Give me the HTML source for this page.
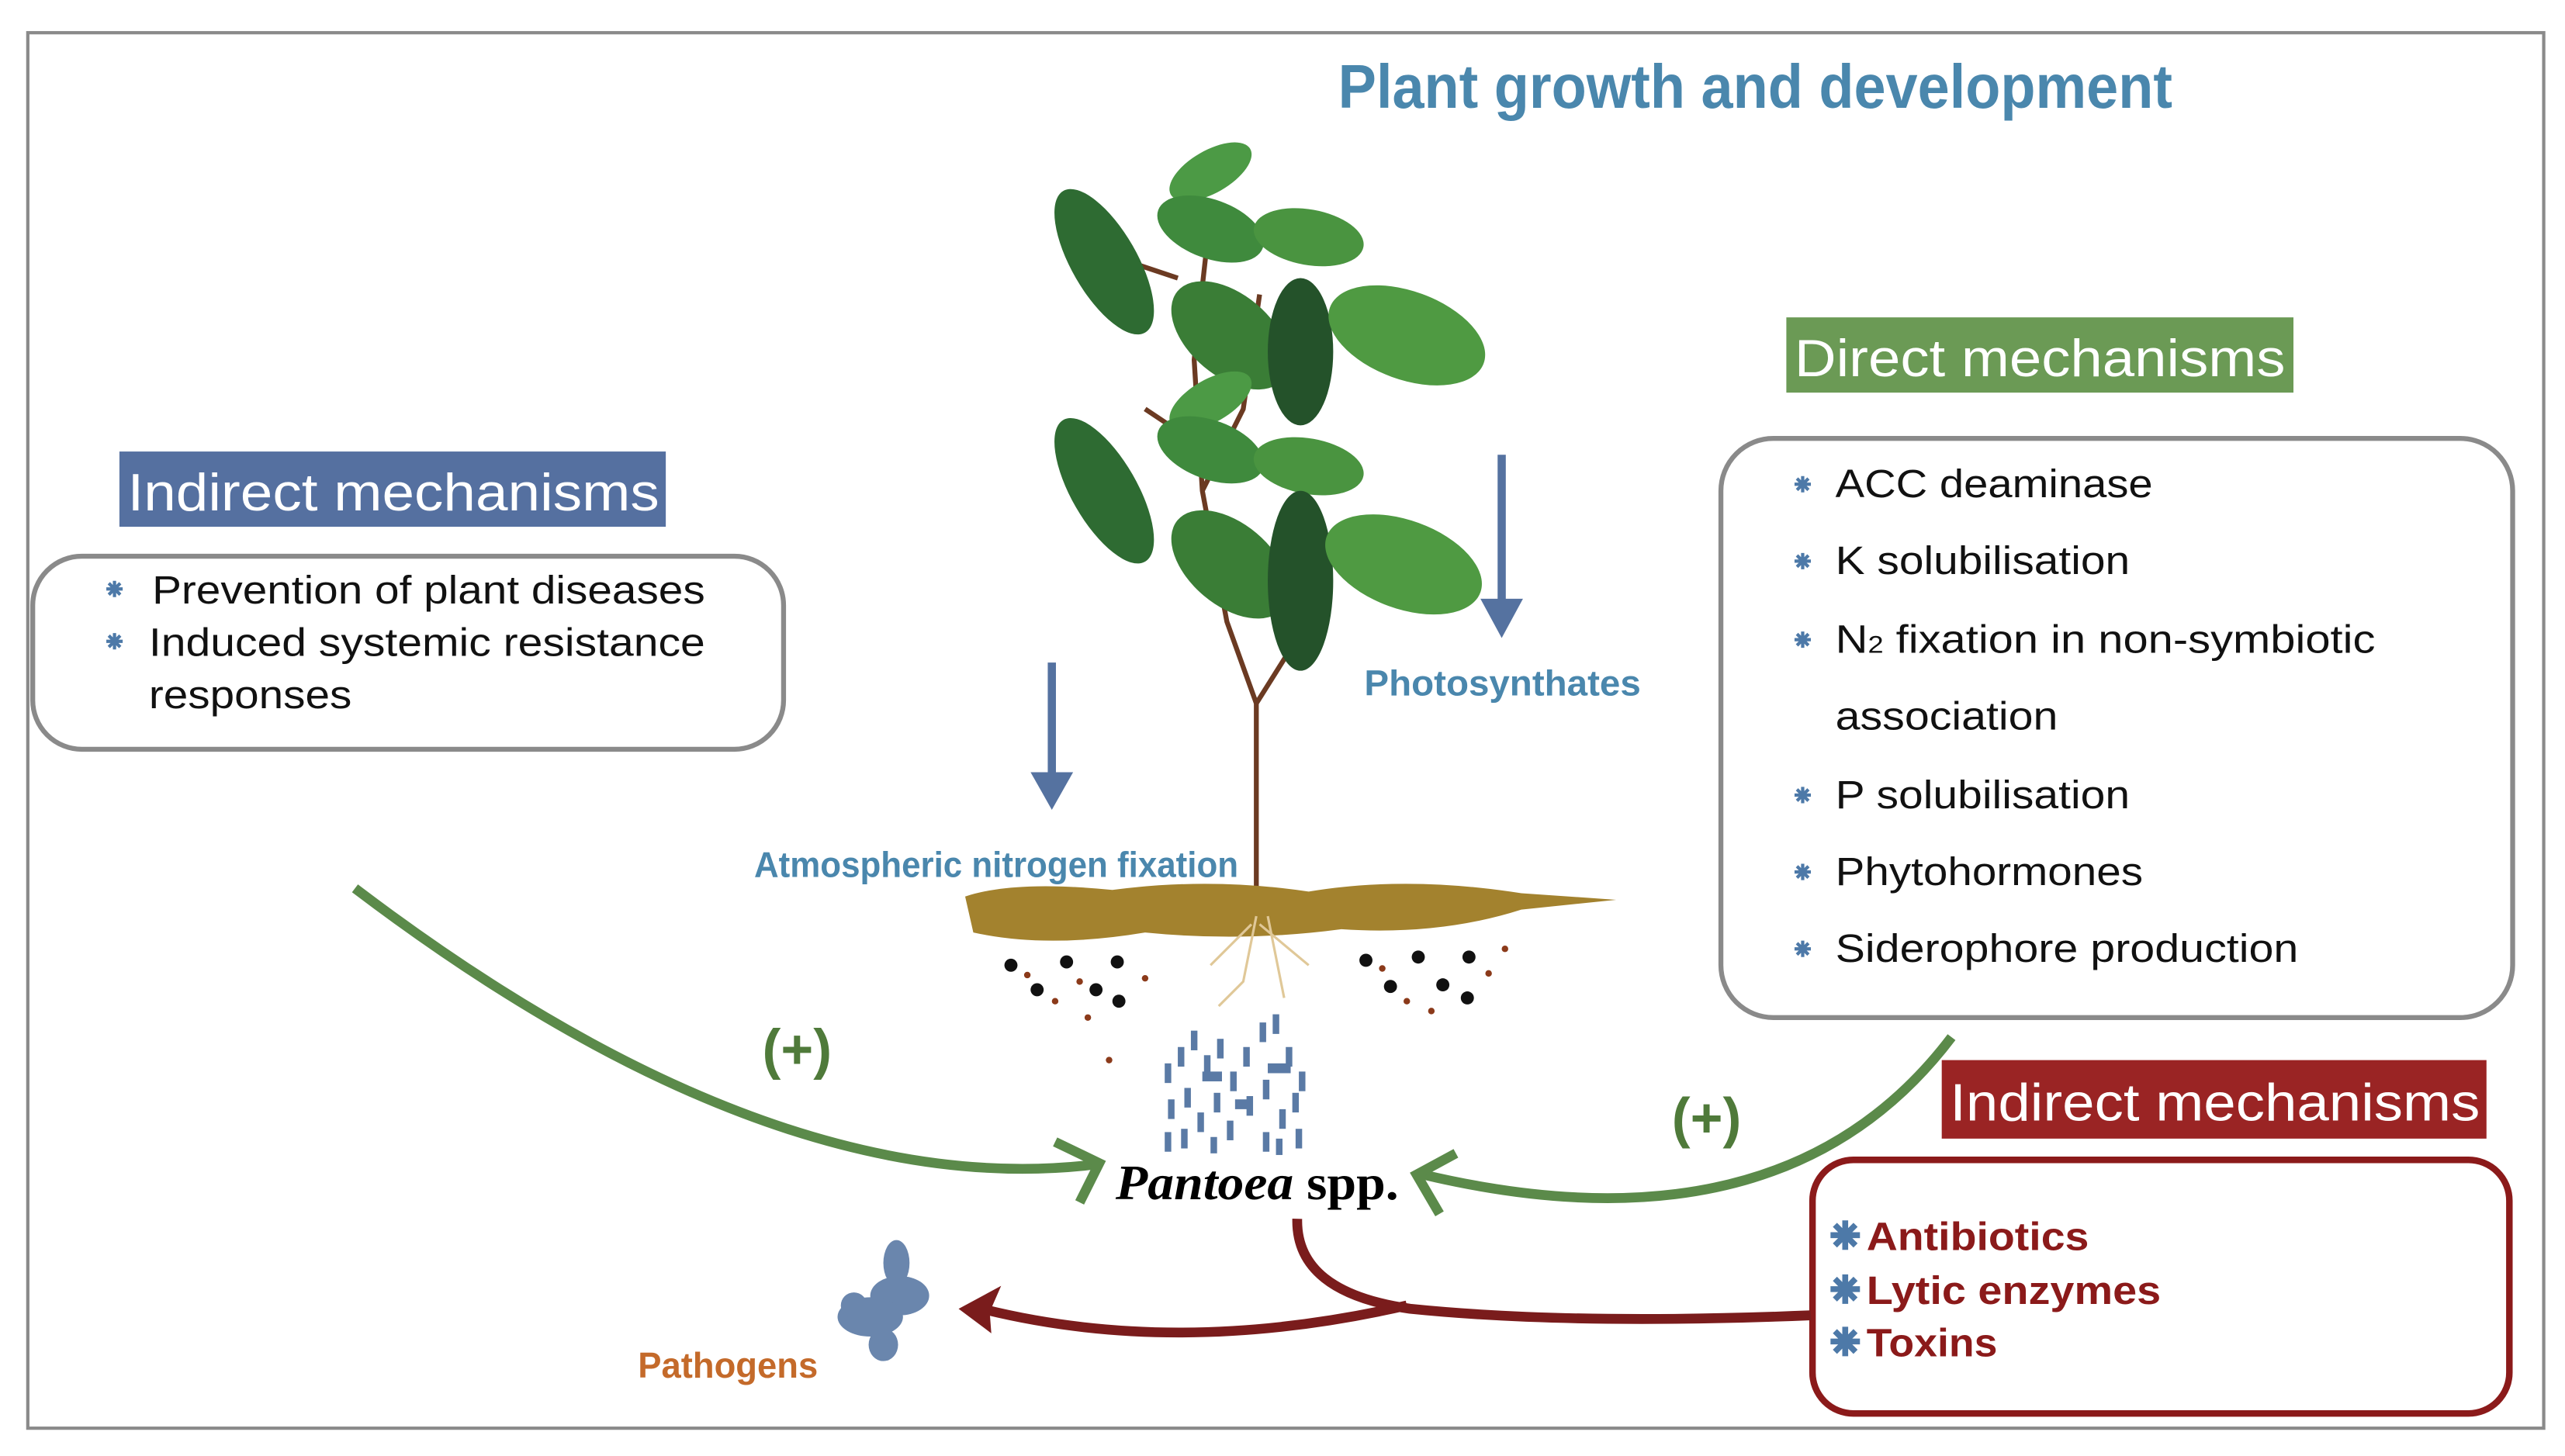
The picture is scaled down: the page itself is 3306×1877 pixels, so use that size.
<!DOCTYPE html>
<html><head><meta charset="utf-8"><style>
html,body{margin:0;padding:0;background:#fff;}
svg{display:block;}
text{font-family:"Liberation Sans",sans-serif;}
text.serif{font-family:"Liberation Serif",serif;}
</style></head><body>
<svg width="3306" height="1877" viewBox="0 0 1568 890" preserveAspectRatio="none" xmlns="http://www.w3.org/2000/svg">
<defs>
<g id="b"><path d="M-5,0H5M0,-5V5M-3.5,-3.5L3.5,3.5M-3.5,3.5L3.5,-3.5" stroke="#4d79a8" stroke-width="2"/></g>
</defs>
<rect x="17" y="20" width="1538" height="853" fill="#fff" stroke="#8a8a8a" stroke-width="2"/>
<text x="818" y="66" font-size="38" font-weight="bold" fill="#4a87ad" textLength="510" lengthAdjust="spacingAndGlyphs">Plant growth and development</text>

<!-- Direct mechanisms -->
<rect x="1092" y="194" width="310" height="46" fill="#6b9a55"/>
<text x="1097" y="230" font-size="32" fill="#fff" textLength="300" lengthAdjust="spacingAndGlyphs">Direct mechanisms</text>
<rect x="1052" y="268" width="484" height="354" rx="32" fill="none" stroke="#8a8a8a" stroke-width="3"/>
<g font-size="24" fill="#111">
<use href="#b" x="1102" y="296"/><text x="1122" y="304" textLength="194" lengthAdjust="spacingAndGlyphs">ACC deaminase</text>
<use href="#b" x="1102" y="343"/><text x="1122" y="351" textLength="180" lengthAdjust="spacingAndGlyphs">K solubilisation</text>
<use href="#b" x="1102" y="391"/><text x="1122" y="399" textLength="330" lengthAdjust="spacingAndGlyphs">N<tspan font-size="15">2</tspan> fixation in non-symbiotic</text>
<text x="1122" y="446" textLength="136" lengthAdjust="spacingAndGlyphs">association</text>
<use href="#b" x="1102" y="486"/><text x="1122" y="494" textLength="180" lengthAdjust="spacingAndGlyphs">P solubilisation</text>
<use href="#b" x="1102" y="533"/><text x="1122" y="541" textLength="188" lengthAdjust="spacingAndGlyphs">Phytohormones</text>
<use href="#b" x="1102" y="580"/><text x="1122" y="588" textLength="283" lengthAdjust="spacingAndGlyphs">Siderophore production</text>
</g>

<!-- Left indirect -->
<rect x="73" y="276" width="334" height="46" fill="#5570a0"/>
<text x="78" y="312" font-size="32" fill="#fff" textLength="325" lengthAdjust="spacingAndGlyphs">Indirect mechanisms</text>
<rect x="20" y="340" width="459" height="118" rx="30" fill="none" stroke="#8a8a8a" stroke-width="3"/>
<g font-size="24" fill="#111">
<use href="#b" x="70" y="360"/><text x="93" y="369" textLength="338" lengthAdjust="spacingAndGlyphs">Prevention of plant diseases</text>
<use href="#b" x="70" y="392"/><text x="91" y="401" textLength="340" lengthAdjust="spacingAndGlyphs">Induced systemic resistance</text>
<text x="91" y="433" textLength="124" lengthAdjust="spacingAndGlyphs">responses</text>
</g>

<!-- Red indirect -->
<rect x="1187" y="648" width="333" height="48" fill="#9a2424"/>
<text x="1192" y="685" font-size="32" fill="#fff" textLength="324" lengthAdjust="spacingAndGlyphs">Indirect mechanisms</text>
<rect x="1108" y="709" width="426" height="155" rx="25" fill="none" stroke="#8b1a1a" stroke-width="4"/>
<g font-size="24" font-weight="bold" fill="#8b1a1a">
<g transform="translate(1128,755) scale(1.8)"><use href="#b"/></g><text x="1141" y="764" textLength="136" lengthAdjust="spacingAndGlyphs">Antibiotics</text>
<g transform="translate(1128,788) scale(1.8)"><use href="#b"/></g><text x="1141" y="797" textLength="180" lengthAdjust="spacingAndGlyphs">Lytic enzymes</text>
<g transform="translate(1128,820) scale(1.8)"><use href="#b"/></g><text x="1141" y="829" textLength="80" lengthAdjust="spacingAndGlyphs">Toxins</text>
</g>

<!-- Plant stem -->
<g stroke="#6b3a22" fill="none" stroke-width="3">
<path d="M768,545 L768,430 L750,380 L735,300 L730,220 L740,130"/>
<path d="M768,430 L790,395"/>
<path d="M735,300 L760,250 L770,180"/>
<path d="M700,250 L730,270"/>
<path d="M690,160 L720,170"/>
</g>
<!-- Leaves -->
<g>
<ellipse cx="675" cy="160" rx="50" ry="20" transform="rotate(60 675 160)" fill="#2e6b32"/>
<ellipse cx="740" cy="105" rx="28" ry="13" transform="rotate(-30 740 105)" fill="#4c9a45"/>
<ellipse cx="740" cy="140" rx="34" ry="18" transform="rotate(20 740 140)" fill="#3f8a3d"/>
<ellipse cx="800" cy="145" rx="34" ry="17" transform="rotate(10 800 145)" fill="#4a9440"/>
<ellipse cx="752" cy="205" rx="42" ry="25" transform="rotate(40 752 205)" fill="#3a7d36"/>
<ellipse cx="795" cy="215" rx="20" ry="45" fill="#24522a"/>
<ellipse cx="860" cy="205" rx="50" ry="27" transform="rotate(20 860 205)" fill="#4f9a42"/>
<ellipse cx="675" cy="300" rx="50" ry="20" transform="rotate(60 675 300)" fill="#2e6b32"/>
<ellipse cx="740" cy="245" rx="28" ry="13" transform="rotate(-30 740 245)" fill="#4c9a45"/>
<ellipse cx="740" cy="275" rx="34" ry="18" transform="rotate(20 740 275)" fill="#3f8a3d"/>
<ellipse cx="800" cy="285" rx="34" ry="17" transform="rotate(10 800 285)" fill="#4a9440"/>
<ellipse cx="752" cy="345" rx="42" ry="25" transform="rotate(40 752 345)" fill="#3a7d36"/>
<ellipse cx="795" cy="355" rx="20" ry="55" fill="#24522a"/>
<ellipse cx="858" cy="345" rx="50" ry="27" transform="rotate(20 858 345)" fill="#4f9a42"/>
</g>
<!-- Soil -->
<path d="M590,548 Q620,538 680,544 Q740,536 800,545 Q860,535 930,546 L988,550 L930,556 Q880,572 820,568 Q760,576 700,570 Q640,580 595,570 Z" fill="#a3822e"/>
<g stroke="#e0c898" stroke-width="1.5" fill="none">
<path d="M768,560 L760,600 L745,615"/><path d="M775,560 L785,610"/><path d="M770,565 L800,590"/><path d="M765,565 L740,590"/>
</g>
<g fill="#111">
<circle cx="618" cy="590" r="4"/><circle cx="652" cy="588" r="4"/><circle cx="670" cy="605" r="4"/><circle cx="634" cy="605" r="4"/><circle cx="684" cy="612" r="4"/><circle cx="683" cy="588" r="4"/>
<circle cx="835" cy="587" r="4"/><circle cx="867" cy="585" r="4"/><circle cx="850" cy="603" r="4"/><circle cx="882" cy="602" r="4"/><circle cx="898" cy="585" r="4"/><circle cx="897" cy="610" r="4"/>
</g>
<g fill="#8b3a1a">
<circle cx="628" cy="596" r="2"/><circle cx="660" cy="600" r="2"/><circle cx="645" cy="612" r="2"/><circle cx="700" cy="598" r="2"/><circle cx="665" cy="622" r="2"/><circle cx="678" cy="648" r="2"/>
<circle cx="845" cy="592" r="2"/><circle cx="860" cy="612" r="2"/><circle cx="875" cy="618" r="2"/><circle cx="910" cy="595" r="2"/><circle cx="920" cy="580" r="2"/>
</g>
<!-- bacteria -->
<g fill="#5a7aa5">
<rect x="712" y="650" width="4" height="12"/><rect x="720" y="640" width="4" height="12"/><rect x="728" y="630" width="4" height="12"/><rect x="736" y="645" width="4" height="12"/><rect x="744" y="635" width="4" height="12"/><rect x="752" y="655" width="4" height="12"/><rect x="760" y="640" width="4" height="12"/><rect x="770" y="625" width="4" height="12"/><rect x="778" y="620" width="4" height="12"/><rect x="786" y="640" width="4" height="12"/><rect x="794" y="655" width="4" height="12"/>
<rect x="714" y="672" width="4" height="12"/><rect x="724" y="665" width="4" height="12"/><rect x="732" y="680" width="4" height="12"/><rect x="742" y="668" width="4" height="12"/><rect x="750" y="685" width="4" height="12"/><rect x="762" y="670" width="4" height="12"/><rect x="772" y="660" width="4" height="12"/><rect x="782" y="678" width="4" height="12"/><rect x="790" y="668" width="4" height="12"/>
<rect x="712" y="692" width="4" height="12"/><rect x="722" y="690" width="4" height="12"/><rect x="740" y="695" width="4" height="10"/><rect x="772" y="692" width="4" height="12"/><rect x="780" y="696" width="4" height="10"/><rect x="792" y="690" width="4" height="12"/>
<rect x="735" y="655" width="12" height="6"/><rect x="775" y="650" width="14" height="6"/><rect x="755" y="672" width="10" height="6"/>
</g>
<!-- Blue arrows -->
<g stroke="#5572a0" stroke-width="5" fill="#5572a0">
<line x1="643" y1="405" x2="643" y2="478"/><path d="M630,472 L643,495 L656,472 Z" stroke="none"/>
<line x1="918" y1="278" x2="918" y2="372"/><path d="M905,366 L918,390 L931,366 Z" stroke="none"/>
</g>
<text x="834" y="425" font-size="22" font-weight="bold" fill="#4a87ad" textLength="169" lengthAdjust="spacingAndGlyphs">Photosynthates</text>
<text x="461" y="536" font-size="22" font-weight="bold" fill="#4a87ad" textLength="296" lengthAdjust="spacingAndGlyphs">Atmospheric nitrogen fixation</text>

<!-- Green arrows -->
<g stroke="#5b8a4a" stroke-width="6" fill="none">
<path d="M217,543 Q470,735 668,712"/>
<path d="M645,698 L672,711 L660,735"/>
<path d="M1193,634 Q1090,770 870,718"/>
<path d="M890,705 L866,718 L880,742"/>
</g>
<g font-size="34" font-weight="bold" fill="#4f7a3a">
<text x="466" y="653">(+)</text>
<text x="1022" y="695">(+)</text>
</g>
<text class="serif" x="682" y="733" font-size="30" fill="#000" textLength="173" lengthAdjust="spacingAndGlyphs"><tspan font-style="italic" font-weight="bold">Pantoea</tspan> <tspan font-weight="bold">spp.</tspan></text>

<!-- Red arrows -->
<g stroke="#7a1c1c" stroke-width="6" fill="none">
<path d="M793,745 Q792,790 862,800 Q960,810 1107,804"/>
<path d="M860,798 Q720,830 600,800"/>
</g>
<path d="M586,800 L612,786 L605,802 L606,815 Z" fill="#7a1c1c"/>
<!-- pathogens -->
<g fill="#6a86ad">
<ellipse cx="548" cy="772" rx="8" ry="14"/><ellipse cx="550" cy="792" rx="18" ry="12"/><ellipse cx="532" cy="805" rx="20" ry="12"/><ellipse cx="540" cy="822" rx="9" ry="10"/><ellipse cx="522" cy="798" rx="8" ry="8"/>
</g>
<text x="390" y="842" font-size="22" font-weight="bold" fill="#c46a2a" textLength="110" lengthAdjust="spacingAndGlyphs">Pathogens</text>
</svg>
</body></html>
